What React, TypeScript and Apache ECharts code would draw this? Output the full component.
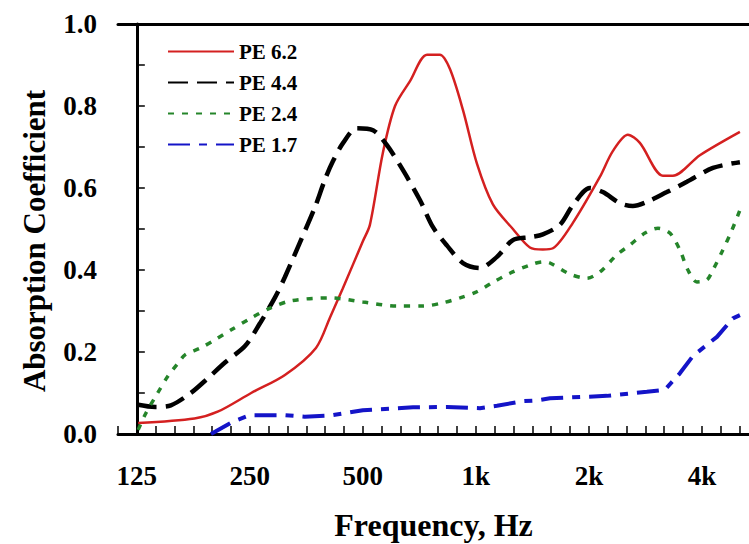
import React, { useEffect, useRef } from "react";
import * as echarts from "echarts";

const BASE_FREQ = 125;
const xTickFreqs = [125, 250, 500, 1000, 2000, 4000];
const xTickLabels = ["125", "250", "500", "1k", "2k", "4k"];

const seriesNames = ["PE 6.2", "PE 4.4", "PE 2.4", "PE 1.7"];

const pe62Freq = [126, 178, 206, 252, 310, 375, 409, 442, 500, 522, 565, 609, 667, 741, 802, 853, 924, 1006, 1110, 1255, 1393, 1508, 1604, 1813, 2139, 2316, 2540, 2734, 3149, 3347, 3950, 5050];
const pe62Abs = [0.027, 0.038, 0.055, 0.1, 0.144, 0.21, 0.285, 0.355, 0.47, 0.51, 0.685, 0.8, 0.86, 0.925, 0.925, 0.89, 0.79, 0.66, 0.56, 0.5, 0.455, 0.45, 0.453, 0.515, 0.627, 0.69, 0.73, 0.71, 0.63, 0.63, 0.68, 0.737];

const pe44Freq = [125, 140, 154, 174, 190, 215, 243, 266, 292, 310, 342, 373, 396, 416, 443, 482, 532, 579, 639, 710, 768, 837, 924, 1025, 1138, 1255, 1393, 1508, 1674, 1813, 2012, 2179, 2418, 2619, 2854, 3226, 3648, 4279, 5050];
const pe44Abs = [0.072, 0.066, 0.07, 0.1, 0.13, 0.175, 0.215, 0.27, 0.334, 0.383, 0.473, 0.554, 0.62, 0.665, 0.71, 0.746, 0.741, 0.705, 0.644, 0.57, 0.505, 0.46, 0.417, 0.405, 0.432, 0.473, 0.48, 0.487, 0.51, 0.558, 0.6, 0.59, 0.563, 0.556, 0.566, 0.59, 0.615, 0.649, 0.663];

const pe24Freq = [126, 132, 142, 151, 161, 168, 185, 202, 223, 252, 283, 322, 409, 500, 616, 723, 817, 907, 1006, 1110, 1232, 1393, 1508, 1575, 1780, 1975, 2139, 2374, 2572, 2820, 3054, 3286, 3494, 3671, 3879, 4125, 4279, 4522, 4807, 5050];
const pe24Abs = [0.01, 0.05, 0.1, 0.14, 0.173, 0.193, 0.21, 0.23, 0.254, 0.283, 0.307, 0.325, 0.332, 0.322, 0.312, 0.312, 0.32, 0.332, 0.347, 0.37, 0.392, 0.412, 0.42, 0.417, 0.39, 0.38, 0.395, 0.437, 0.461, 0.49, 0.502, 0.49, 0.449, 0.4, 0.371, 0.376, 0.4, 0.444, 0.497, 0.546];

const pe17Freq = [197, 225, 250, 310, 350, 409, 500, 680, 837, 1025, 1138, 1334, 1454, 1575, 2233, 2854, 3188, 3494, 3784, 4387, 4837, 5050];
const pe17Abs = [0.0, 0.03, 0.046, 0.046, 0.042, 0.045, 0.058, 0.065, 0.066, 0.063, 0.069, 0.08, 0.082, 0.087, 0.093, 0.103, 0.108, 0.148, 0.19, 0.237, 0.282, 0.29];

const FONT = "'Liberation Serif', 'Times New Roman', serif";

function toPoints(freq: number[], abs: number[]) {
  return freq.map((f, i) => [Math.log2(f / BASE_FREQ), abs[i]]);
}

export default function App() {
  const ref = useRef<HTMLDivElement>(null);
  useEffect(() => {
    if (!ref.current) return;
    const chart = echarts.init(ref.current, undefined, { renderer: "svg" });
    const xMin = -1 / 6;
    const xMax = 65 / 12;
    const xFormatter = (v: number) => {
      const k = Math.round(v);
      if (Math.abs(v - k) > 1e-4) return "";
      const idx = xTickFreqs.findIndex((f) => Math.abs(Math.log2(f / BASE_FREQ) - k) < 1e-4);
      return idx >= 0 ? xTickLabels[idx] : "";
    };
    const yFormatter = (v: number) => {
      const r = Math.round(v * 10);
      if (r % 2 !== 0) return "";
      return (r / 10).toFixed(1);
    };
    chart.setOption({
      animation: false,
      backgroundColor: "#ffffff",
      grid: { left: 118, top: 24, right: 0, bottom: 110, outerBoundsMode: "none" },
      legend: {
        orient: "vertical",
        left: 162,
        top: 36,
        itemWidth: 66,
        itemHeight: 14,
        itemGap: 10,
        data: seriesNames,
        itemStyle: { opacity: 0 },
        textStyle: { fontFamily: FONT, fontWeight: "bold", fontSize: 21, color: "#000" },
      },
      xAxis: [
        {
          type: "value",
          min: xMin,
          max: xMax,
          interval: 1 / 6,
          position: "bottom",
          name: "Frequency, Hz",
          nameLocation: "middle",
          nameGap: 75,
          nameTextStyle: { fontFamily: FONT, fontWeight: "bold", fontSize: 32, color: "#000" },
          axisLine: { show: true, lineStyle: { color: "#000", width: 3 } },
          axisTick: { show: true, inside: true, length: 8, lineStyle: { color: "#000", width: 1.5 } },
          axisLabel: {
            formatter: xFormatter,
            margin: 28,
            fontFamily: FONT,
            fontWeight: "bold",
            fontSize: 27,
            color: "#000",
            showMaxLabel: false,
          },
          splitLine: { show: false },
        },
        {
          type: "value",
          min: xMin,
          max: xMax,
          position: "top",
          axisLine: { show: true, lineStyle: { color: "#000", width: 3 } },
          axisTick: { show: false },
          axisLabel: { show: false },
          splitLine: { show: false },
        },
      ],
      yAxis: {
        type: "value",
        min: 0,
        max: 1,
        interval: 0.1,
        name: "Absorption Coefficient",
        nameLocation: "middle",
        nameGap: 68,
        nameTextStyle: { fontFamily: FONT, fontWeight: "bold", fontSize: 31, color: "#000", padding: [0, 24, 0, 0] },
        axisLine: { show: true, lineStyle: { color: "#000", width: 3 } },
        axisTick: { show: true, inside: true, length: 8, lineStyle: { color: "#000", width: 1.5 } },
        axisLabel: {
          formatter: yFormatter,
          margin: 21,
          fontFamily: FONT,
          fontWeight: "bold",
          fontSize: 27,
          color: "#000",
        },
        splitLine: { show: false },
      },
      series: [
        {
          name: seriesNames[0],
          type: "line",
          data: toPoints(pe62Freq, pe62Abs),
          smooth: 0.3,
          symbol: "none",
          lineStyle: { color: "#d42020", width: 2.5, type: "solid" },
          itemStyle: { color: "#d42020" },
        },
        {
          name: seriesNames[1],
          type: "line",
          data: toPoints(pe44Freq, pe44Abs),
          smooth: 0.3,
          symbol: "none",
          lineStyle: { color: "#000000", width: 4.5, type: [20, 9] },
          itemStyle: { color: "#000000" },
        },
        {
          name: seriesNames[2],
          type: "line",
          data: toPoints(pe24Freq, pe24Abs),
          smooth: 0.3,
          symbol: "none",
          lineStyle: { color: "#25852a", width: 3.5, type: [6, 8] },
          itemStyle: { color: "#25852a" },
        },
        {
          name: seriesNames[3],
          type: "line",
          data: toPoints(pe17Freq, pe17Abs),
          smooth: false,
          symbol: "none",
          lineStyle: { color: "#1414c8", width: 4, type: [22, 9, 8, 9] },
          itemStyle: { color: "#1414c8" },
        },
      ],
    });
    return () => chart.dispose();
  }, []);
  return (
    <div
      ref={ref}
      style={{ position: "absolute", left: 0, top: 0, width: 749, height: 544 }}
    />
  );
}
